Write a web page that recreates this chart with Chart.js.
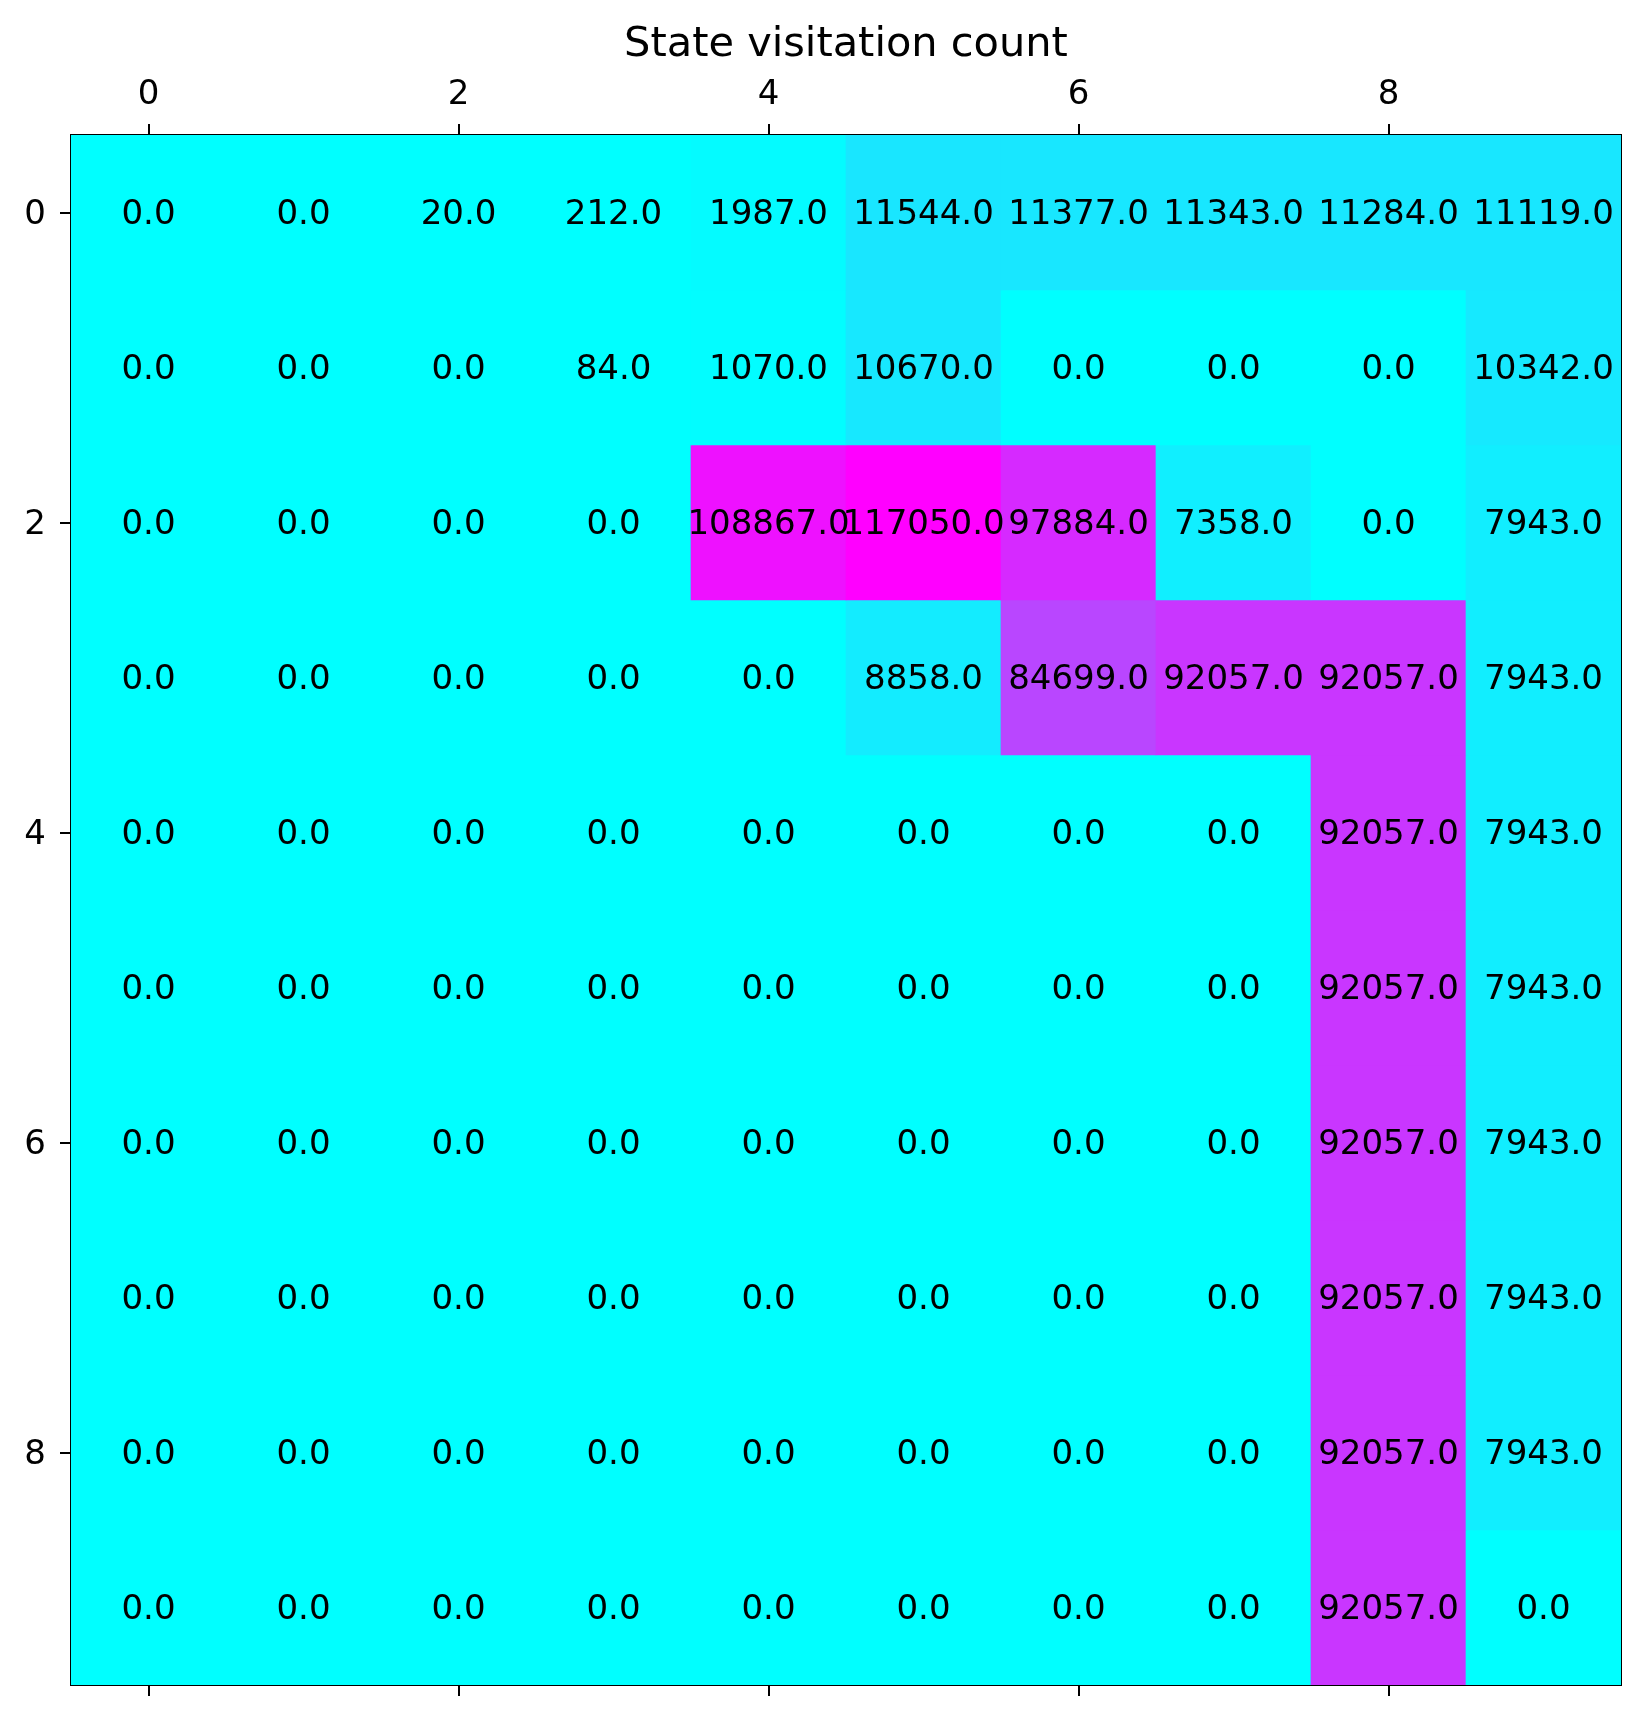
<!DOCTYPE html>
<html>
<head>
<meta charset="utf-8">
<script src="https://cdn.jsdelivr.net/npm/chart.js@4/dist/chart.umd.min.js"></script>
<style>
  html, body { margin: 0; padding: 0; background: #ffffff; }
  #wrap { width: 1646px; height: 1722px; }
</style>
</head>
<body>
<div id="wrap"><canvas id="c" width="1646" height="1722"></canvas></div>
<script>
// ---- data ----
const titleText = 'State visitation count';
const xLabels = ['0','1','2','3','4','5','6','7','8','9'];
const rowIndex = [0,1,2,3,4,5,6,7,8,9];
const xTickShown = ['0','2','4','6','8'];
const yTicks = [0,2,4,6,8];
const row0 = [0,0,20,212,1987,11544,11377,11343,11284,11119];
const row1 = [0,0,0,84,1070,10670,0,0,0,10342];
const row2 = [0,0,0,0,108867,117050,97884,7358,0,7943];
const row3 = [0,0,0,0,0,8858,84699,92057,92057,7943];
const row4 = [0,0,0,0,0,0,0,0,92057,7943];
const row5 = [0,0,0,0,0,0,0,0,92057,7943];
const row6 = [0,0,0,0,0,0,0,0,92057,7943];
const row7 = [0,0,0,0,0,0,0,0,92057,7943];
const row8 = [0,0,0,0,0,0,0,0,92057,7943];
const row9 = [0,0,0,0,0,0,0,0,92057,0];
const rows = [row0,row1,row2,row3,row4,row5,row6,row7,row8,row9];

// ---- colour map (matplotlib "cool", 256 levels) ----
const vmax = Math.max(...rows.map(r => Math.max(...r)));
const vmin = Math.min(...rows.map(r => Math.min(...r)));
function coolColor(v) {
  const t = (v - vmin) / (vmax - vmin);
  let i = Math.floor(t * 256);
  if (i > 255) i = 255;
  if (i < 0) i = 0;
  const f = i / 255;
  return 'rgb(' + Math.round(f * 255) + ',' + Math.round((1 - f) * 255) + ',255)';
}

const FONT = "'DejaVu Sans', sans-serif";
const CELL_FONT = 34;
const TICK_FONT = 34;

const datasets = rows.map((r, ri) => ({
  label: 'row ' + rowIndex[ri],
  data: r.map(() => [rowIndex[ri] - 0.5, rowIndex[ri] + 0.5]),
  backgroundColor: r.map(v => coolColor(v)),
  borderWidth: 0,
  barPercentage: 1.0,
  categoryPercentage: 1.0,
  grouped: false
}));

const cellText = {
  id: 'cellText',
  afterDatasetsDraw(chart) {
    const ctx = chart.ctx;
    const xs = chart.scales.x, ys = chart.scales.y;
    ctx.save();
    ctx.fillStyle = '#000000';
    ctx.font = CELL_FONT + 'px ' + FONT;
    ctx.textAlign = 'center';
    ctx.textBaseline = 'middle';
    rows.forEach((r, ri) => {
      r.forEach((v, ci) => {
        ctx.fillText(v.toFixed(1), xs.getPixelForValue(ci), ys.getPixelForValue(rowIndex[ri]) + 2.5);
      });
    });
    ctx.restore();
  }
};

const tickColor = (c) => (c.index % 2 === 0 ? '#000000' : 'rgba(0,0,0,0)');

new Chart(document.getElementById('c'), {
  type: 'bar',
  data: { labels: xLabels, datasets: datasets },
  options: {
    responsive: false,
    animation: false,
    events: [],
    layout: { padding: 0 },
    plugins: {
      legend: { display: false },
      tooltip: { enabled: false },
      title: {
        display: true,
        fullSize: false,
        text: titleText,
        color: '#000000',
        font: { family: FONT, size: 41.5, weight: 'normal' },
        padding: { top: 20.5, bottom: 0 }
      }
    },
    scales: {
      x: {
        type: 'category',
        position: 'top',
        offset: true,
        grid: { display: true, drawOnChartArea: false, drawTicks: true, tickLength: 11, offset: false, color: tickColor, lineWidth: 2 },
        border: { display: true, color: '#000000', width: 2 },
        ticks: {
          autoSkip: false, maxRotation: 0, padding: 8, color: '#000000',
          font: { family: FONT, size: TICK_FONT },
          callback: function(val, i) { return xTickShown.includes(xLabels[i]) ? xLabels[i] : ''; }
        },
        afterFit: (s) => { s.height = 64.7; }
      },
      x2: {
        type: 'category',
        position: 'bottom',
        offset: true,
        grid: { display: true, drawOnChartArea: false, drawTicks: true, tickLength: 11, offset: false, color: tickColor, lineWidth: 2 },
        border: { display: true, color: '#000000', width: 2 },
        ticks: { display: false, autoSkip: false },
        afterFit: (s) => { s.height = 37; }
      },
      y: {
        type: 'linear',
        position: 'left',
        reverse: true,
        min: -0.5,
        max: 9.5,
        afterBuildTicks: (s) => { s.ticks = yTicks.map(v => ({ value: v })); },
        grid: { display: true, drawOnChartArea: false, drawTicks: true, tickLength: 11, color: '#000000', lineWidth: 2 },
        border: { display: true, color: '#000000', width: 2 },
        ticks: { padding: 14, labelOffset: 3, color: '#000000', font: { family: FONT, size: TICK_FONT }, callback: (v) => String(v) },
        afterFit: (s) => { s.width = 71; }
      },
      y2: {
        type: 'linear',
        position: 'right',
        min: -0.5,
        max: 9.5,
        grid: { display: false, drawOnChartArea: false, drawTicks: false },
        border: { display: true, color: '#000000', width: 2 },
        ticks: { display: false },
        afterFit: (s) => { s.width = 25; }
      }
    }
  },
  plugins: [cellText]
});
</script>
</body>
</html>
